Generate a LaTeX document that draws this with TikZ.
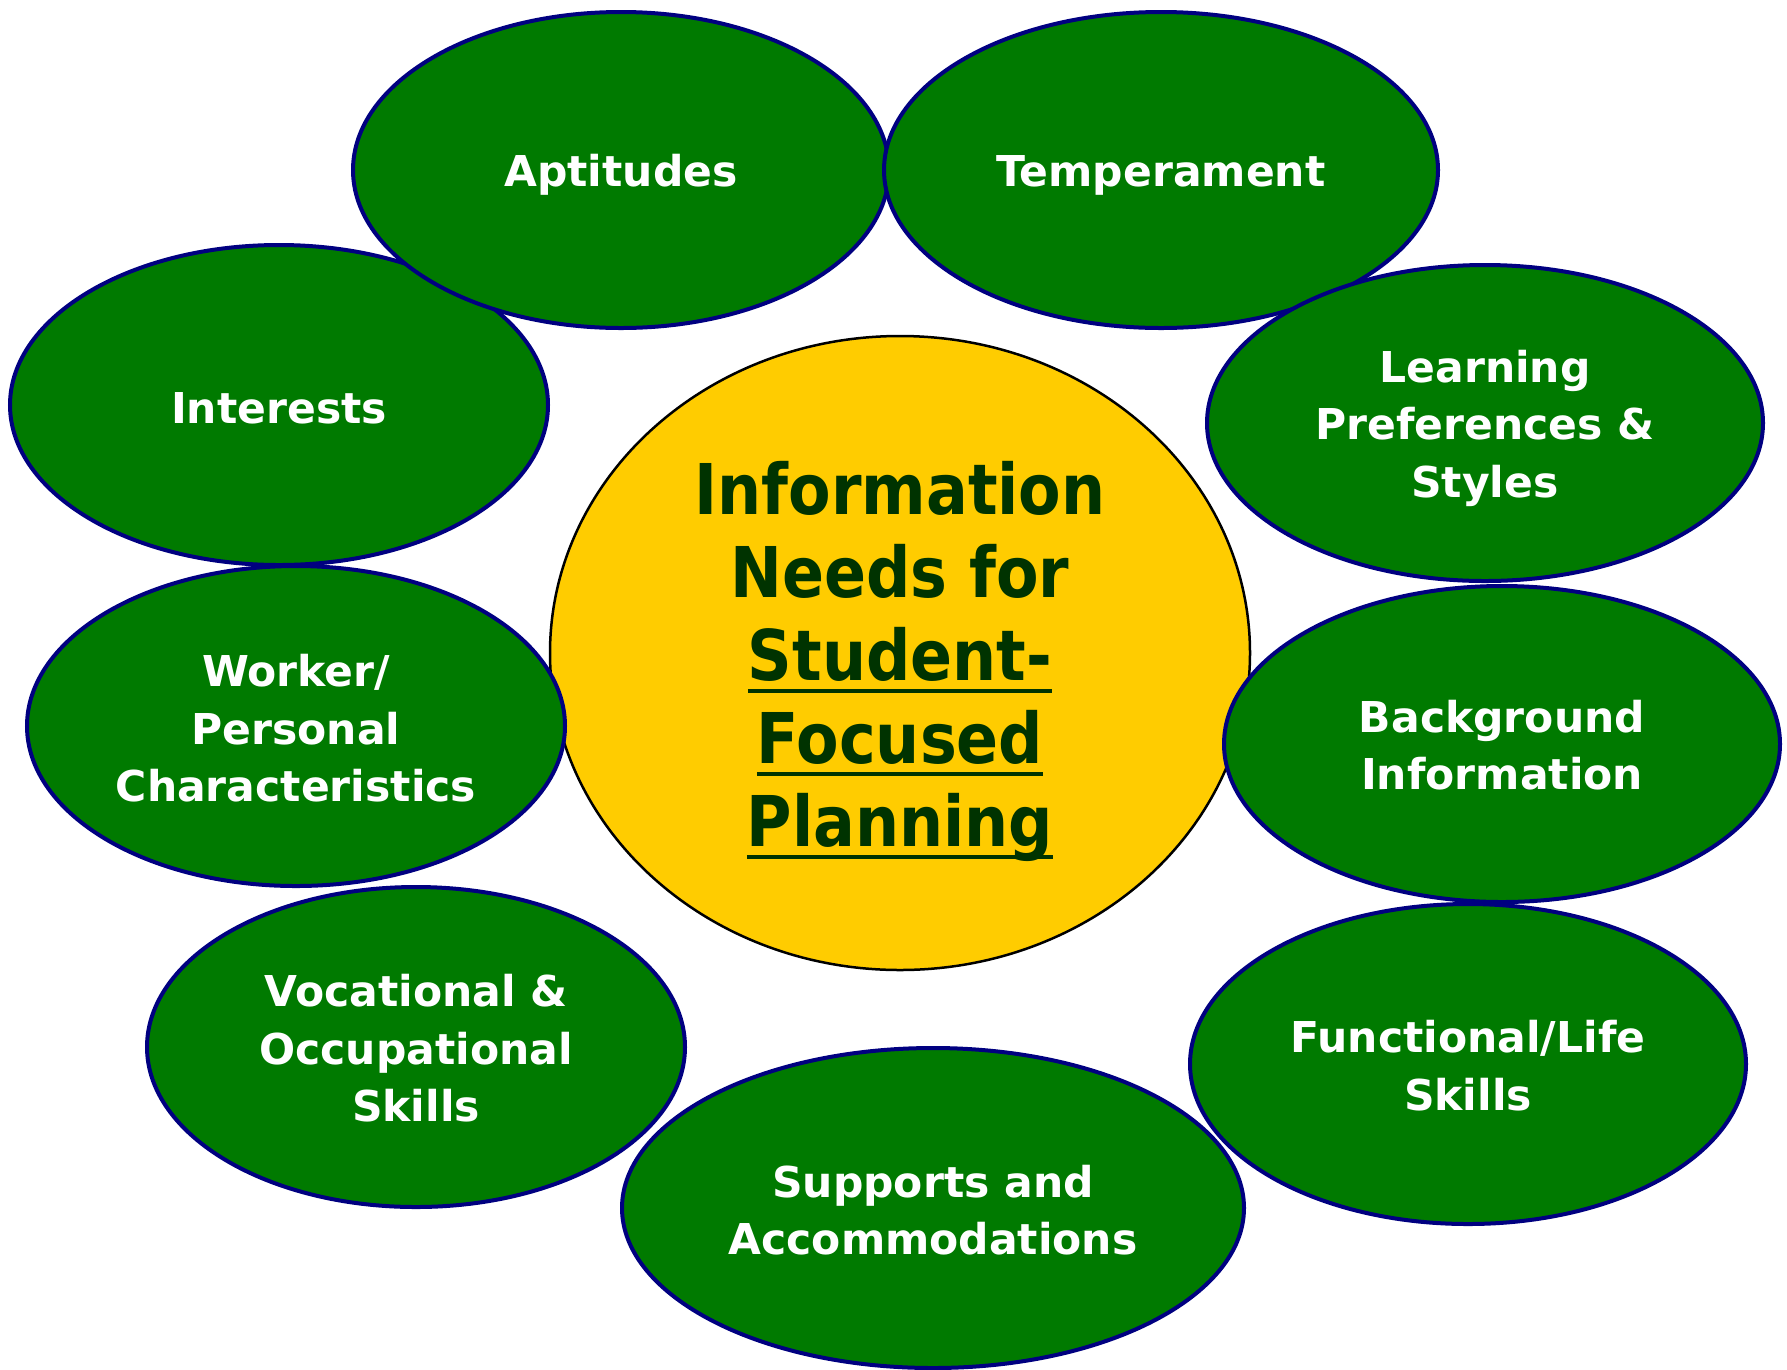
\documentclass[tikz,border=0pt]{standalone}
\usepackage{fontspec}
\usepackage{graphicx}
\setmainfont{DejaVu Sans}
\usetikzlibrary{shapes.geometric}

\definecolor{leafgreen}{RGB}{0,122,0}
\definecolor{rimnavy}{RGB}{0,0,128}
\definecolor{sunyellow}{RGB}{255,204,0}
\definecolor{darktext}{RGB}{0,51,0}

% underline drawn a fixed distance below the baseline
\newcommand\ulline[1]{\leavevmode\setbox0\hbox{#1}\makebox[0pt][l]{\usebox0}\rule[-12pt]{\wd0}{4pt}}

\tikzset{
  topic/.style={ellipse, draw=rimnavy, line width=4pt, fill=leafgreen,
    inner sep=0pt},
  topictext/.style={inner sep=0pt, text=white, align=center,
    font=\bfseries\fontsize{42.5}{57.5}\selectfont},
  hub/.style={ellipse, draw=black, line width=2.5pt, fill=sunyellow,
    inner sep=0pt, minimum width=700pt, minimum height=634pt},
  hubtext/.style={text=darktext, inner sep=0pt,
    font=\bfseries\fontsize{70}{83}\selectfont}
}

\begin{document}
\begin{tikzpicture}[x=1pt,y=-1pt]
\useasboundingbox (0,0) rectangle (1787,1369);

\node[topic, minimum width=538pt, minimum height=320pt] (interests) at (279,405) {};
\node[topictext] (interestslbl) at ([yshift=-3.5pt]interests.center) {Interests};
\node[topic, minimum width=536pt, minimum height=316pt] (aptitudes) at (621,170) {};
\node[topictext] (aptitudeslbl) at ([yshift=-5pt]aptitudes.center) {Aptitudes};
\node[topic, minimum width=554pt, minimum height=316pt] (temperament) at (1161,170) {};
\node[topictext] (temperamentlbl) at ([yshift=-5pt]temperament.center) {Temperament};
\node[topic, minimum width=556pt, minimum height=316pt] (learning) at (1485,423) {};
\node[topictext] (learninglbl) at ([yshift=-5pt]learning.center) {Learning\\Preferences \&\\Styles};

\node[hub] (hub) at (900,653) {};
\node[hubtext] (hubtitle) at (900,664) {\scalebox{0.885}[1]{\begin{tabular}{@{}c@{}}
Information\\
Needs for\\
\ulline{Student-}\\
\ulline{Focused}\\
\ulline{Planning}
\end{tabular}}};

\node[topic, minimum width=538pt, minimum height=320pt] (worker) at (296,726) {};
\node[topictext] (workerlbl) at ([yshift=-2.5pt]worker.center) {Worker/\\Personal\\Characteristics};
\node[topic, minimum width=556pt, minimum height=316pt] (background) at (1502,744) {};
\node[topictext] (backgroundlbl) at ([yshift=-1pt]background.center) {Background\\Information};
\node[topic, minimum width=538pt, minimum height=320pt] (vocational) at (416,1047) {};
\node[topictext] (vocationallbl) at ([yshift=-1.5pt]vocational.center) {Vocational \&\\Occupational\\Skills};
\node[topic, minimum width=622pt, minimum height=320pt] (supports) at (933,1208) {};
\node[topictext] (supportslbl) at ([yshift=-2pt]supports.center) {Supports and\\Accommodations};
\node[topic, minimum width=556pt, minimum height=320pt] (functional) at (1468,1064) {};
\node[topictext] (functionallbl) at ([yshift=-1.5pt]functional.center) {Functional/Life\\Skills};
\end{tikzpicture}
\end{document}
